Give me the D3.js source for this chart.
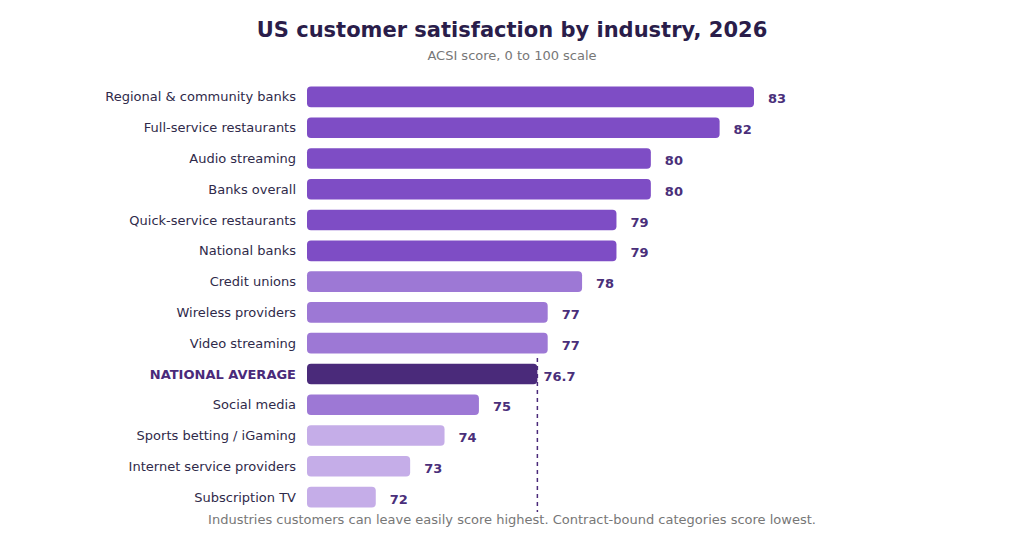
<!DOCTYPE html><html><head><meta charset="utf-8"><script src="https://cdn.jsdelivr.net/npm/d3@7"></script>
<style>body{margin:0;background:#fff}svg{font-family:"DejaVu Sans",sans-serif}</style></head><body><svg id="c" width="1024" height="549"></svg>
<script>
const categories=["Regional & community banks","Full-service restaurants","Audio streaming","Banks overall","Quick-service restaurants","National banks","Credit unions","Wireless providers","Video streaming","NATIONAL AVERAGE","Social media","Sports betting / iGaming","Internet service providers","Subscription TV"];
const values=[83,82,80,80,79,79,78,77,77,76.7,75,74,73,72];
const valueLabels=["83","82","80","80","79","79","78","77","77","76.7","75","74","73","72"];
const tiers=["high","high","high","high","high","high","mid","mid","mid","avg","mid","low","low","low"];
const nationalAverage=76.7;
const colors={high:"#7e4dc5",mid:"#9d78d5",low:"#c5ade8",avg:"#4a2a7a"};
const svg=d3.select("#c");
const x=d3.scaleLinear().domain([70,83]).range([307,754]);
const y=d3.scaleBand().domain(categories).range([82,512]).paddingInner(0.33).paddingOuter(0.15);
svg.append("text").attr("x",512).attr("y",37).attr("text-anchor","middle").attr("font-size",21).attr("font-weight","bold").attr("fill","#2a1d4a").text("US customer satisfaction by industry, 2026");
svg.append("text").attr("x",512).attr("y",60).attr("text-anchor","middle").attr("font-size",13).attr("fill","#777").text("ACSI score, 0 to 100 scale");
svg.append("line").attr("x1",x(nationalAverage)).attr("x2",x(nationalAverage)).attr("y1",358).attr("y2",512).attr("stroke","#4a2a7a").attr("stroke-width",1.5).attr("stroke-dasharray","4,4");
const g=svg.selectAll(".r").data(categories).join("g");
g.append("rect").attr("x",x(70)).attr("y",d=>y(d)).attr("height",y.bandwidth()).attr("width",(d,i)=>x(values[i])-x(70)).attr("rx",4).attr("fill",(d,i)=>colors[tiers[i]]);
g.append("text").attr("x",x(70)-11).attr("y",d=>y(d)+y.bandwidth()/2).attr("dy","0.35em").attr("text-anchor","end").attr("font-size",13)
 .attr("font-weight",(d,i)=>tiers[i]==="avg"?"bold":"normal").attr("fill",(d,i)=>tiers[i]==="avg"?"#4a2a7a":"#2f2a4a").text(d=>d);
g.append("text").attr("x",(d,i)=>x(values[i])+(tiers[i]==="avg"?6:14)).attr("y",d=>y(d)+y.bandwidth()/2+2).attr("dy","0.35em").attr("font-size",13).attr("font-weight","bold").attr("fill","#4a2f7a").text((d,i)=>valueLabels[i]);
svg.append("text").attr("x",512).attr("y",524).attr("text-anchor","middle").attr("font-size",13).attr("fill","#777").text("Industries customers can leave easily score highest. Contract-bound categories score lowest.");
</script></body></html>
